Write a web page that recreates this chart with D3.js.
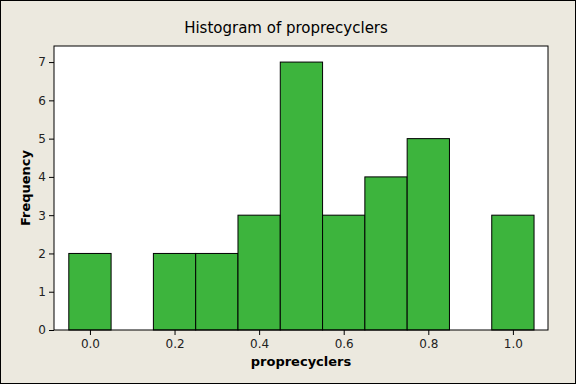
<!DOCTYPE html>
<meta charset="utf-8">
<style>
body { margin: 0; background: #ECE9DF; }
svg { display: block; font-family: "DejaVu Sans", Verdana, sans-serif; }
</style>
<body>
<script src="https://cdn.jsdelivr.net/npm/d3@7"></script>
<script>
// bin centers and counts
var centers = [0.0, 0.1, 0.2, 0.3, 0.4, 0.5, 0.6, 0.7, 0.8, 0.9, 1.0];
var counts  = [2, 0, 2, 2, 3, 7, 3, 4, 5, 0, 3];
var xTicks = [0.0, 0.2, 0.4, 0.6, 0.8, 1.0];
var yTicks = [0, 1, 2, 3, 4, 5, 6, 7];
var binWidth = 0.1;

var W = 576, H = 384;
var plot = {left: 54, top: 46, right: 548, bottom: 330};

var svg = d3.select("body").append("svg").attr("width", W).attr("height", H);

svg.append("rect").attr("x", 0.5).attr("y", 0.5).attr("width", W - 1).attr("height", H - 1)
  .attr("fill", "#ECE9DF").attr("stroke", "#000");

var x = d3.scaleLinear().domain([-0.085, 1.083]).range([plot.left, plot.right]);
var y = d3.scaleLinear().domain([0, 7.42]).range([plot.bottom, plot.top]);

svg.append("rect")
  .attr("x", plot.left).attr("y", plot.top)
  .attr("width", plot.right - plot.left).attr("height", plot.bottom - plot.top)
  .attr("fill", "#fff");

var bars = centers.map(function(c, i) { return {c: c, n: counts[i]}; }).filter(function(d) { return d.n > 0; });

svg.selectAll(".bar").data(bars).enter().append("rect")
  .attr("class", "bar")
  .attr("x", function(d) { return x(d.c - binWidth / 2); })
  .attr("width", function(d) { return x(d.c + binWidth / 2) - x(d.c - binWidth / 2); })
  .attr("y", function(d) { return y(d.n); })
  .attr("height", function(d) { return y(0) - y(d.n); })
  .attr("fill", "#3DB43D")
  .attr("stroke", "#000")
  .attr("stroke-width", 1);

svg.append("rect")
  .attr("x", plot.left).attr("y", plot.top)
  .attr("width", plot.right - plot.left).attr("height", plot.bottom - plot.top)
  .attr("fill", "none").attr("stroke", "#000").attr("stroke-width", 1);

var xAxis = svg.append("g").attr("transform", "translate(0," + plot.bottom + ")")
  .call(d3.axisBottom(x).tickValues(xTicks).tickFormat(d3.format(".1f")).tickSize(5).tickSizeOuter(0));
var yAxis = svg.append("g").attr("transform", "translate(" + plot.left + ",0)")
  .call(d3.axisLeft(y).tickValues(yTicks).tickSize(5).tickSizeOuter(0));

[xAxis, yAxis].forEach(function(g) {
  g.select(".domain").remove();
  g.selectAll("line").attr("stroke", "#000");
  g.selectAll("text").attr("font-size", 12).attr("font-family", "DejaVu Sans, sans-serif").attr("fill", "#222");
});
xAxis.selectAll("text").attr("dy", "0.85em");

svg.append("text").attr("x", 286).attr("y", 33).attr("text-anchor", "middle")
  .attr("font-size", 15).text("Histogram of proprecyclers");

svg.append("text").attr("x", 301).attr("y", 366).attr("text-anchor", "middle")
  .attr("font-size", 13).attr("font-weight", "bold").text("proprecyclers");

svg.append("text").attr("transform", "translate(30,188) rotate(-90)").attr("text-anchor", "middle")
  .attr("font-size", 13).attr("font-weight", "bold").text("Frequency");
</script>
</body>
